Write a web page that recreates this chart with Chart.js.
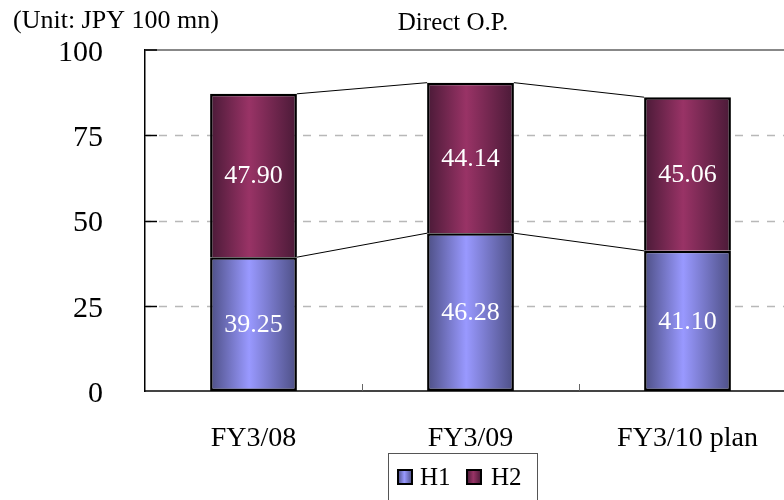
<!DOCTYPE html>
<html>
<head>
<meta charset="utf-8">
<script src="https://cdn.jsdelivr.net/npm/chart.js@4/dist/chart.umd.min.js"></script>
<style>
  html, body { margin: 0; padding: 0; background: #fff; overflow: hidden; }
  #wrap { position: relative; width: 810px; height: 510px; }
</style>
</head>
<body>
<div id="wrap"><canvas id="chart"></canvas></div>
<script>
// Direct operating profit, first and second half
const categories = ['FY3/08', 'FY3/09', 'FY3/10 plan'];
const h1Values = [39.25, 46.28, 41.10];
const h2Values = [47.90, 44.14, 45.06];
const yTicks = [0, 25, 50, 75, 100];
const seriesNames = ['H1', 'H2'];

const SERIF = "'Liberation Serif', 'Times New Roman', serif";

const palette = {
  H1: { edge: '#4d4f85', mid: '#9999ff' },
  H2: { edge: '#4a1a37', mid: '#993366' }
};

// Horizontal shading across each bar: dark edges, light middle
function barShade(name) {
  return function (ctx) {
    const chart = ctx.chart;
    const xs = chart.scales && chart.scales.x;
    const c = palette[name];
    if (!xs || ctx.dataIndex === undefined || !chart.chartArea) return c.mid;
    const cx = xs.getPixelForValue(ctx.dataIndex);
    const w = (xs.width / categories.length) * 0.4;
    const g = chart.ctx.createLinearGradient(cx - w / 2, 0, cx + w / 2, 0);
    g.addColorStop(0, c.edge);
    g.addColorStop(0.45, c.mid);
    g.addColorStop(1, c.edge);
    return g;
  };
}

const frame = {
  id: 'frame',
  beforeDatasetsDraw(chart) {
    const { ctx, chartArea: a, scales: { y, x } } = chart;
    ctx.save();
    // dashed gridlines
    yTicks.forEach(v => {
      if (v === 0 || v === 100) return;
      const py = Math.round(y.getPixelForValue(v)) + 0.5;
      ctx.strokeStyle = '#b8b8b8';
      ctx.lineWidth = 1.5;
      ctx.setLineDash([8, 8]);
      ctx.lineDashOffset = 2;
      ctx.beginPath(); ctx.moveTo(a.left, py); ctx.lineTo(a.right, py); ctx.stroke();
    });
    ctx.setLineDash([]);
    // top border
    const top = Math.round(y.getPixelForValue(100));
    ctx.strokeStyle = '#888';
    ctx.lineWidth = 2;
    ctx.beginPath(); ctx.moveTo(a.left, top); ctx.lineTo(a.right, top); ctx.stroke();
    // inner tick marks on the value axis
    ctx.strokeStyle = '#000';
    ctx.lineWidth = 1.5;
    yTicks.forEach(v => {
      if (v === 0) return;
      const py = Math.round(y.getPixelForValue(v)) + (v === 100 ? 0 : 0.5);
      ctx.beginPath(); ctx.moveTo(a.left, py); ctx.lineTo(a.left + 12, py); ctx.stroke();
    });
    // inner tick marks between categories
    ctx.strokeStyle = '#666';
    ctx.lineWidth = 1;
    const step = x.width / categories.length;
    for (let i = 1; i < categories.length; i++) {
      const px = Math.round(a.left + step * i) + 0.5;
      ctx.beginPath(); ctx.moveTo(px, a.bottom); ctx.lineTo(px, a.bottom - 7); ctx.stroke();
    }
    ctx.restore();
  },
  afterDatasetsDraw(chart) {
    const { ctx } = chart;
    const m1 = chart.getDatasetMeta(0).data;
    const m2 = chart.getDatasetMeta(1).data;
    ctx.save();
    // series lines joining the segment tops
    ctx.strokeStyle = '#000';
    ctx.lineWidth = 1;
    [m1, m2].forEach(bars => {
      for (let i = 0; i < bars.length - 1; i++) {
        const a = bars[i], b = bars[i + 1];
        ctx.beginPath();
        ctx.moveTo(a.x + a.width / 2, a.y);
        ctx.lineTo(b.x - b.width / 2, b.y);
        ctx.stroke();
      }
    });
    // value labels inside each segment
    ctx.fillStyle = '#fff';
    ctx.font = '26px ' + SERIF;
    ctx.textAlign = 'center';
    ctx.textBaseline = 'middle';
    [[m1, h1Values], [m2, h2Values]].forEach(([bars, vals]) => {
      bars.forEach((el, i) => {
        ctx.fillText(vals[i].toFixed(2), el.x, (el.y + el.base) / 2 + 1);
      });
    });
    ctx.restore();
  },
  afterDraw(chart) {
    const { ctx } = chart;
    ctx.save();
    ctx.fillStyle = '#000';
    ctx.textBaseline = 'alphabetic';
    ctx.textAlign = 'left';
    ctx.font = '26px ' + SERIF;
    ctx.fillText('(Unit: JPY 100 mn)', 13, 28);
    ctx.textAlign = 'center';
    ctx.font = '25px ' + SERIF;
    ctx.fillText('Direct O.P.', 453, 30);

    // legend
    ctx.strokeStyle = '#555';
    ctx.lineWidth = 1;
    ctx.strokeRect(388.5, 453.5, 149, 60);
    const items = [
      { name: seriesNames[0], sx: 398, tx: 420 },
      { name: seriesNames[1], sx: 467, tx: 491 }
    ];
    items.forEach(it => {
      const c = palette[it.name];
      const g = ctx.createLinearGradient(it.sx, 0, it.sx + 14, 0);
      g.addColorStop(0, c.edge);
      g.addColorStop(0.45, c.mid);
      g.addColorStop(1, c.edge);
      ctx.fillStyle = g;
      ctx.fillRect(it.sx, 470, 14, 14);
      ctx.strokeStyle = '#000';
      ctx.lineWidth = 2;
      ctx.strokeRect(it.sx, 470, 14, 14);
      ctx.fillStyle = '#000';
      ctx.textAlign = 'left';
      ctx.font = '25px ' + SERIF;
      ctx.fillText(it.name, it.tx, 485);
    });
    ctx.restore();
  }
};

new Chart(document.getElementById('chart'), {
  type: 'bar',
  data: {
    labels: categories,
    datasets: [
      { label: seriesNames[0], data: h1Values, backgroundColor: barShade('H1'), borderSkipped: false },
      { label: seriesNames[1], data: h2Values, backgroundColor: barShade('H2'), borderSkipped: 'start' }
    ]
  },
  options: {
    responsive: true,
    maintainAspectRatio: false,
    animation: false,
    events: [],
    layout: { padding: { top: 50, right: 14, left: 0, bottom: 0 } },
    datasets: {
      bar: {
        categoryPercentage: 1,
        barPercentage: 0.4,
        borderColor: '#000',
        borderWidth: 2.5
      }
    },
    plugins: {
      legend: { display: false },
      tooltip: { enabled: false },
      title: { display: false }
    },
    scales: {
      x: {
        stacked: true,
        grid: { display: false, drawTicks: false },
        border: { display: true, color: '#444', width: 2 },
        ticks: { color: '#000', font: { family: SERIF, size: 28 }, padding: 31, maxRotation: 0 },
        afterFit(scale) { scale.height = 119; scale.paddingLeft = 0; scale.paddingRight = 0; }
      },
      y: {
        stacked: true,
        min: 0,
        max: 100,
        afterBuildTicks(scale) { scale.ticks = yTicks.map(v => ({ value: v })); },
        grid: { display: false, drawTicks: false },
        border: { display: true, color: '#000', width: 1.5 },
        ticks: { color: '#000', font: { family: SERIF, size: 30 }, padding: 42, labelOffset: 3 },
        afterFit(scale) { scale.width = 145; scale.paddingTop = 0; scale.paddingBottom = 0; }
      }
    }
  },
  plugins: [frame]
});
</script>
</body>
</html>
